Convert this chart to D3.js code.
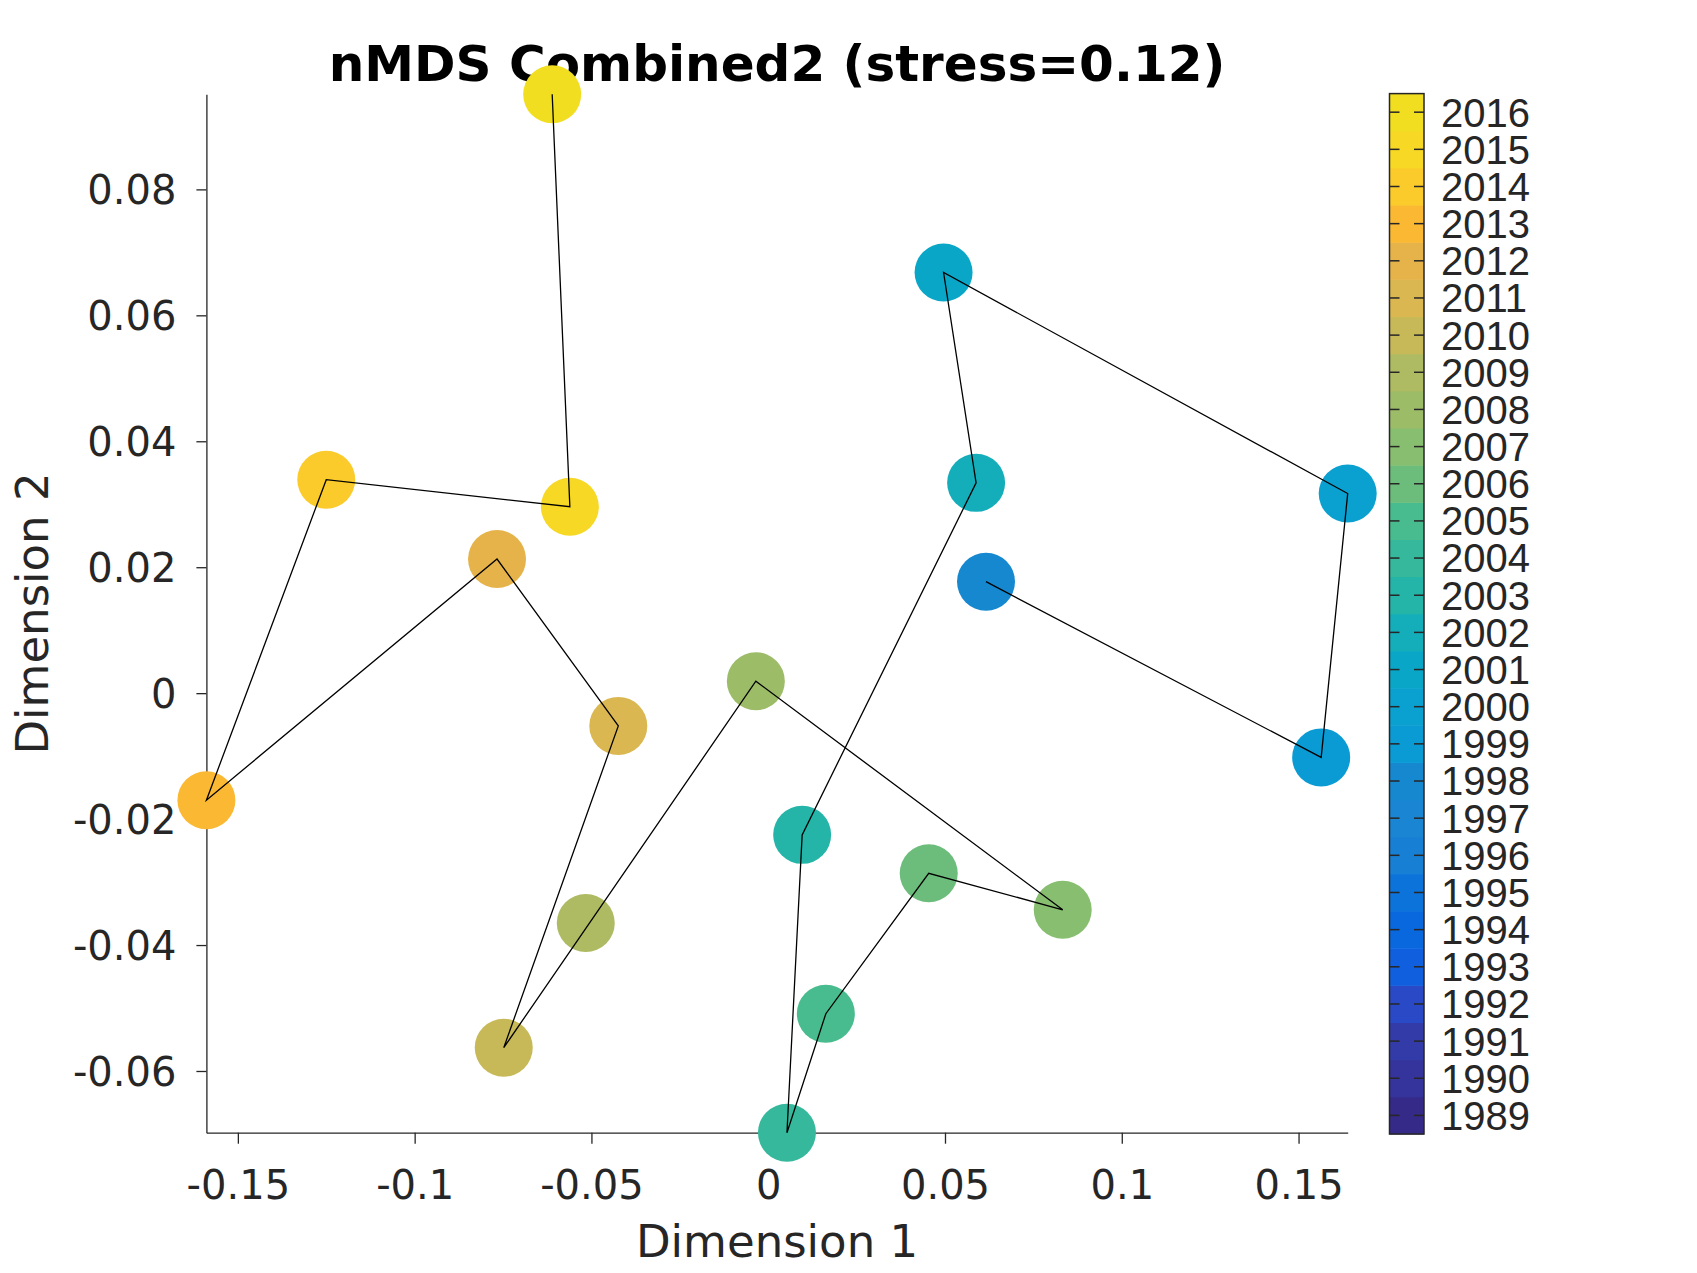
<!DOCTYPE html>
<html>
<head>
<meta charset="utf-8">
<script src="https://cdn.jsdelivr.net/npm/d3@7"></script>
<style>
  body { margin: 0; background: #fff; }
  .tick-label { font-family: "DejaVu Sans", sans-serif; font-size: 40px; fill: #262626; }
  .axis-label { font-family: "DejaVu Sans", sans-serif; font-size: 45px; fill: #262626; }
  .chart-title { font-family: "DejaVu Sans", sans-serif; font-size: 50px; font-weight: bold; fill: #000; }
  .cbar-label { font-family: "Liberation Sans", Arial, sans-serif; font-size: 40px; fill: #262626; }
</style>
</head>
<body>
<div id="chart"></div>
<script>
// nMDS coordinates, one point per year
const years = [1998, 1999, 2000, 2001, 2002, 2003, 2004, 2005, 2006, 2007,
  2008, 2009, 2010, 2011, 2012, 2013, 2014, 2015, 2016];
const dim1 = [0.0616, 0.1564, 0.1639, 0.0496, 0.0588, 0.0096, 0.0053, 0.0163, 0.0454, 0.0833,
  -0.0035, -0.0516, -0.0748, -0.0424, -0.0767, -0.1589, -0.1250, -0.0561, -0.0611];
const dim2 = [0.0177, -0.0102, 0.0317, 0.0668, 0.0334, -0.0225, -0.0698, -0.0509, -0.0286, -0.0344,
  0.0019, -0.0365, -0.0563, -0.0052, 0.0213, -0.0170, 0.0339, 0.0296, 0.0951];
// years the black trajectory line does not pass through
const offPath = [2009];

const xTicks = [-0.15, -0.1, -0.05, 0, 0.05, 0.1, 0.15];
const yTicks = [-0.06, -0.04, -0.02, 0, 0.02, 0.04, 0.06, 0.08];

// colorbar years and their colours (bottom to top)
const cbarYears = [1989, 1990, 1991, 1992, 1993, 1994, 1995, 1996, 1997, 1998,
  1999, 2000, 2001, 2002, 2003, 2004, 2005, 2006, 2007, 2008,
  2009, 2010, 2011, 2012, 2013, 2014, 2015, 2016];
const cbarColors = ["#352a87", "#35349c", "#333ba8", "#2a49c6", "#0f5fde", "#0a68df", "#0c73db",
  "#1880d4", "#1a86d3", "#1688d0", "#0a9bd5", "#0aa0d0", "#0aa6c8", "#14aebb",
  "#24b5a8", "#35b89c", "#48bc8e", "#6cbd7b", "#88be70", "#9cbc68", "#aebb62",
  "#c8b958", "#dab751", "#e5b349", "#fbb833", "#fbcb2b", "#f6d825", "#f2de20"];

class NmdsChart {
  constructor(props) {
    this.container = props.container;
    this.svgWidth = props.svgWidth;
    this.svgHeight = props.svgHeight;
    this.title = props.title;
    this.xLabel = props.xLabel;
    this.yLabel = props.yLabel;
    this.init();
  }

  init() {
    this.margin = { top: 94.3, right: 349.3, bottom: 140.3, left: 206.4 };
    this.width = this.svgWidth - this.margin.left - this.margin.right;
    this.height = this.svgHeight - this.margin.top - this.margin.bottom;
    this.data = years.map((y, i) => ({ year: y, x: dim1[i], y: dim2[i] }));
    this.render();
  }

  render() {
    const m = this.margin;
    const svg = d3.select(this.container).append("svg")
      .attr("width", this.svgWidth)
      .attr("height", this.svgHeight);

    // axis tight
    const x = d3.scaleLinear()
      .domain([d3.min(dim1), d3.max(dim1)])
      .range([m.left, m.left + this.width]);
    const y = d3.scaleLinear()
      .domain([d3.min(dim2), d3.max(dim2)])
      .range([m.top + this.height, m.top]);
    const color = d3.scaleOrdinal().domain(cbarYears).range(cbarColors);
    // plain hyphen for negatives, like the original
    const fmt = (d) => String(d);

    // title
    svg.append("text")
      .attr("class", "chart-title")
      .attr("x", m.left + this.width / 2)
      .attr("y", 81)
      .attr("text-anchor", "middle")
      .text(this.title);

    // X axis
    const xAxis = svg.append("g")
      .attr("transform", `translate(0, ${m.top + this.height})`)
      .call(d3.axisBottom(x).tickValues(xTicks).tickSize(11).tickSizeOuter(0)
        .tickPadding(27).tickFormat(fmt));
    // Y axis
    const yAxis = svg.append("g")
      .attr("transform", `translate(${m.left}, 0)`)
      .call(d3.axisLeft(y).tickValues(yTicks).tickSize(10).tickSizeOuter(0)
        .tickPadding(20).tickFormat(fmt));
    [xAxis, yAxis].forEach((g) => {
      g.select(".domain").attr("stroke", "#262626").attr("stroke-width", 1.3);
      g.selectAll(".tick line").attr("stroke", "#262626").attr("stroke-width", 1.3);
      g.selectAll(".tick text").attr("class", "tick-label").attr("fill", null);
      g.attr("font-family", null).attr("font-size", null);
    });
    yAxis.selectAll(".tick text").attr("dy", "0.36em");

    svg.append("text")
      .attr("class", "axis-label")
      .attr("x", m.left + this.width / 2)
      .attr("y", 1257)
      .attr("text-anchor", "middle")
      .text(this.xLabel);
    svg.append("text")
      .attr("class", "axis-label")
      .attr("transform", `translate(48, ${m.top + this.height / 2}) rotate(-90)`)
      .attr("text-anchor", "middle")
      .text(this.yLabel);

    // points
    svg.append("g")
      .selectAll("circle")
      .data(this.data)
      .join("circle")
      .attr("cx", (d) => x(d.x))
      .attr("cy", (d) => y(d.y))
      .attr("r", 29)
      .attr("fill", (d) => color(d.year));

    // trajectory line on top
    const path = this.data.filter((d) => !offPath.includes(d.year));
    svg.append("path")
      .datum(path)
      .attr("fill", "none")
      .attr("stroke", "#000")
      .attr("stroke-width", 1.3)
      .attr("d", d3.line().x((d) => x(d.x)).y((d) => y(d.y)));

    this.renderColorbar(svg, color);
  }

  renderColorbar(svg, color) {
    const left = 1389.5, right = 1424, top = 93.6, bottom = 1134;
    const c = d3.scaleLinear()
      .domain([cbarYears[0] - 0.5, cbarYears[cbarYears.length - 1] + 0.5])
      .range([bottom, top]);
    const cb = svg.append("g").attr("class", "colorbar");

    cb.selectAll("rect.band")
      .data(cbarYears)
      .join("rect")
      .attr("class", "band")
      .attr("x", left)
      .attr("width", right - left)
      .attr("y", (d) => c(d + 0.5))
      .attr("height", (d) => c(d - 0.5) - c(d + 0.5) + 0.5)
      .attr("fill", (d) => color(d));

    cb.append("rect")
      .attr("x", left).attr("y", top)
      .attr("width", right - left).attr("height", bottom - top)
      .attr("fill", "none").attr("stroke", "#262626").attr("stroke-width", 1.5);

    // inner ticks on both edges
    const ticks = cb.selectAll("g.cb-tick").data(cbarYears).join("g")
      .attr("class", "cb-tick")
      .attr("transform", (d) => `translate(0, ${c(d)})`);
    ticks.append("line")
      .attr("x1", left).attr("x2", left + 10)
      .attr("stroke", "#262626").attr("stroke-width", 1.5);
    ticks.append("line")
      .attr("x1", right - 10).attr("x2", right)
      .attr("stroke", "#262626").attr("stroke-width", 1.5);
    ticks.append("text")
      .attr("class", "cbar-label")
      .attr("x", 1441)
      .attr("dy", "0.36em")
      .text((d) => d);
  }
}

new NmdsChart({
  container: "#chart",
  svgWidth: 1697,
  svgHeight: 1273,
  title: "nMDS Combined2 (stress=0.12)",
  xLabel: "Dimension 1",
  yLabel: "Dimension 2",
});
</script>
</body>
</html>
